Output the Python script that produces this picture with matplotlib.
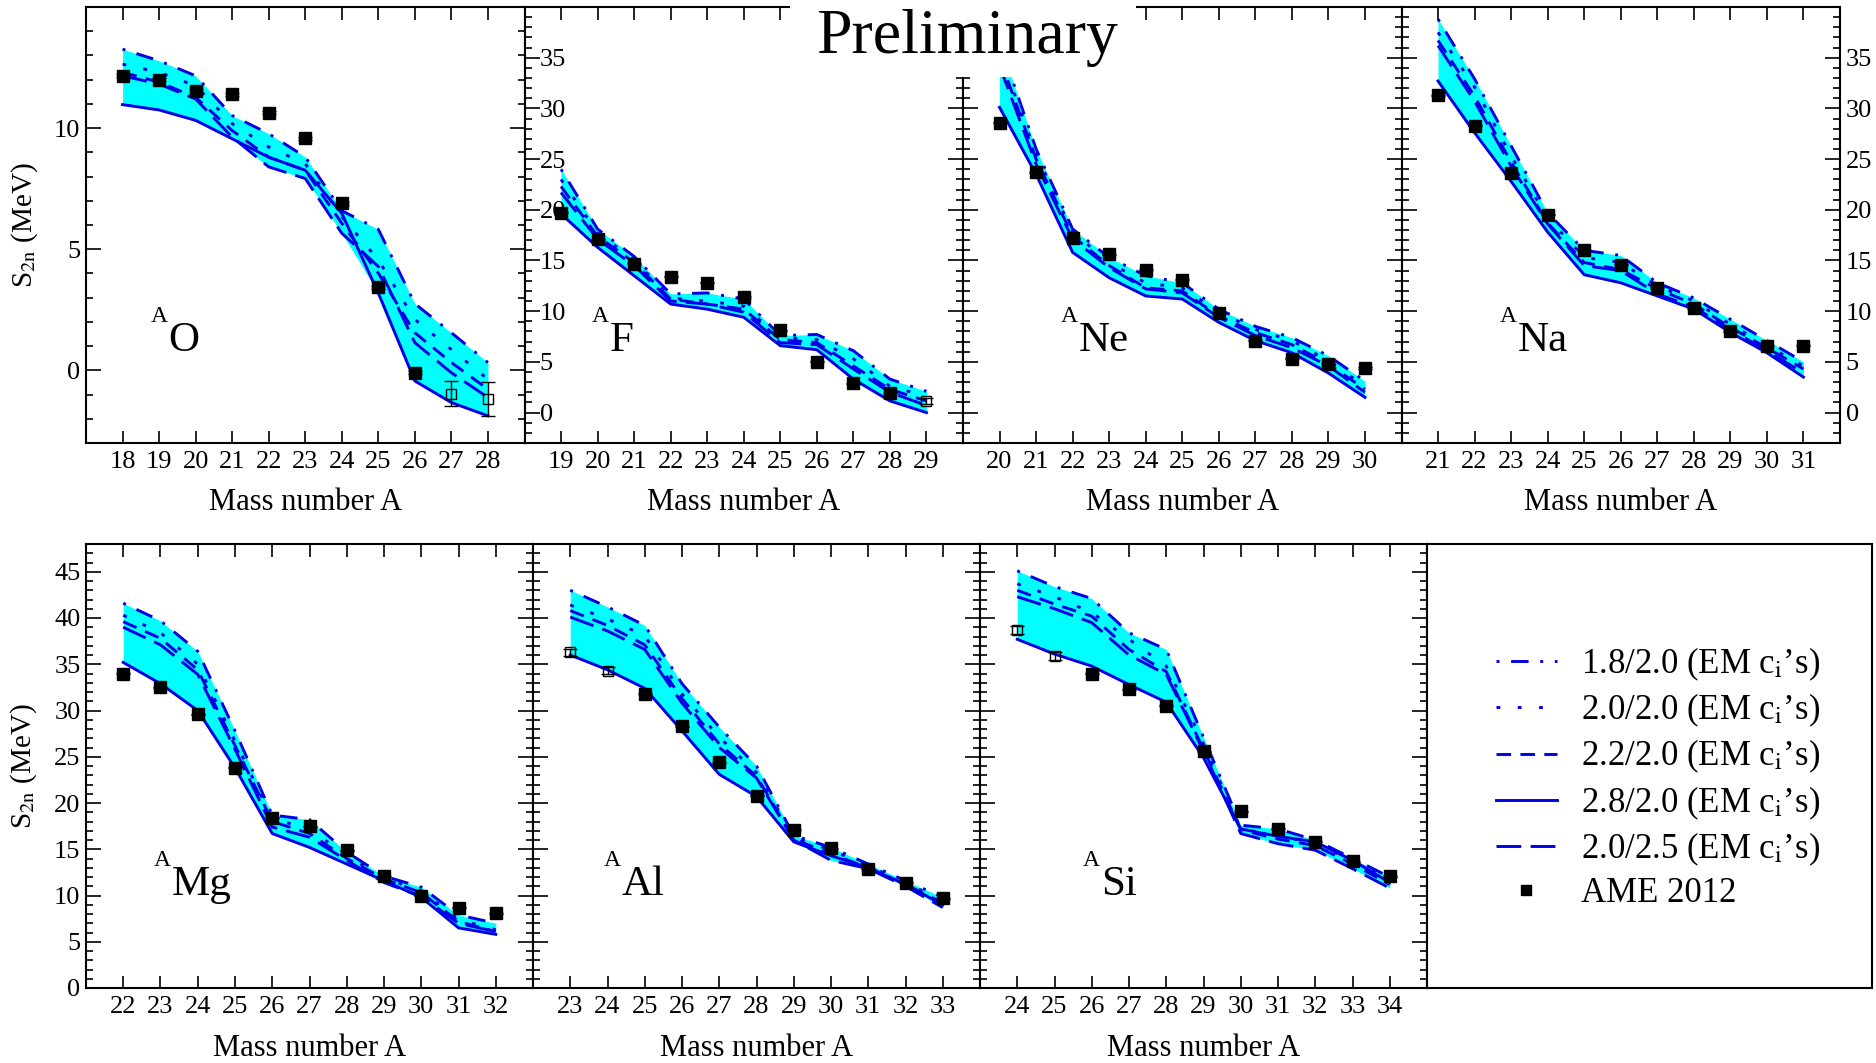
import numpy as np
import matplotlib
matplotlib.use('Agg')
import matplotlib.pyplot as plt
from matplotlib.lines import Line2D
from matplotlib.patches import Rectangle
from matplotlib.ticker import MultipleLocator

plt.rcParams['font.family'] = 'Liberation Serif'
plt.rcParams['mathtext.fontset'] = 'stix'
plt.rcParams['axes.unicode_minus'] = False

# interaction labels (order: dash-dot, dotted, dashed, solid, long dash)
labels = [r'1.8/2.0 (EM c$_{\mathrm{i}}$’s)', r'2.0/2.0 (EM c$_{\mathrm{i}}$’s)',
          r'2.2/2.0 (EM c$_{\mathrm{i}}$’s)', r'2.8/2.0 (EM c$_{\mathrm{i}}$’s)',
          r'2.0/2.5 (EM c$_{\mathrm{i}}$’s)']
elements = ['O', 'F', 'Ne', 'Na', 'Mg', 'Al', 'Si']
first_A = [18, 19, 20, 21, 22, 23, 24]

# S2n (MeV) for each chain, A = first_A .. first_A+10
s2n_18 = {  # 1.8/2.0
    'O':  [13.26, 12.78, 12.16, 10.52, 9.77, 8.81, 6.59, 5.82, 2.75, 1.55, 0.32],
    'F':  [24.0, 18.1, 15.4, 11.7, 11.8, 11.2, 7.6, 7.7, 6.1, 3.3, 2.1],
    'Ne': [36.5, 26.0, 18.1, 15.3, 13.5, 12.8, 10.2, 8.5, 7.4, 5.6, 3.1],
    'Na': [38.8, 32.9, 26.3, 19.7, 16.0, 15.5, 12.8, 11.3, 9.2, 7.1, 5.0],
    'Mg': [41.6, 39.7, 36.4, 27.8, 18.7, 18.2, 14.7, 12.1, 10.9, 7.9, 7.0],
    'Al': [43.0, 41.2, 39.2, 32.9, 28.2, 24.0, 16.5, 15.2, 13.4, 11.6, 9.8],
    'Si': [45.1, 43.4, 42.1, 38.4, 36.6, 27.1, 17.6, 17.2, 16.0, 14.0, 12.0],
}
s2n_20 = {  # 2.0/2.0
    'O':  [12.64, 12.30, 11.75, 10.18, 9.22, 8.53, 6.34, 4.56, 2.10, 0.86, -0.37],
    'F':  [23.0, 17.7, 15.1, 11.3, 11.0, 10.5, 7.4, 7.2, 5.3, 2.6, 1.6],
    'Ne': [35.5, 25.5, 17.8, 14.8, 12.8, 12.3, 9.9, 8.2, 7.1, 5.1, 2.6],
    'Na': [37.5, 32.1, 25.3, 19.2, 15.3, 14.8, 12.5, 11.0, 8.7, 6.6, 4.6],
    'Mg': [40.3, 38.4, 35.0, 26.7, 18.3, 17.2, 14.3, 11.9, 10.5, 7.4, 6.3],
    'Al': [41.4, 39.9, 38.1, 31.8, 27.1, 23.3, 16.3, 14.9, 13.2, 11.4, 9.4],
    'Si': [43.7, 42.3, 40.6, 37.7, 34.8, 26.4, 17.2, 16.5, 15.6, 13.8, 11.6],
}
s2n_22 = {  # 2.2/2.0
    'O':  [12.30, 11.90, 11.27, 9.90, 8.80, 8.26, 6.07, 4.01, 1.55, 0.32, -0.78],
    'F':  [22.3, 17.4, 14.8, 11.2, 10.7, 10.2, 7.2, 6.9, 4.6, 2.3, 1.15],
    'Ne': [35.0, 25.0, 17.4, 14.5, 12.3, 12.0, 9.5, 7.9, 6.7, 4.8, 2.3],
    'Na': [36.7, 31.2, 24.7, 18.7, 14.8, 14.1, 12.2, 10.7, 8.4, 6.4, 4.3],
    'Mg': [39.6, 37.8, 34.4, 26.2, 18.0, 16.7, 14.0, 11.8, 10.3, 7.2, 6.1],
    'Al': [40.8, 39.2, 37.1, 31.3, 26.4, 22.9, 16.1, 14.5, 13.0, 11.2, 9.2],
    'Si': [43.0, 41.5, 40.2, 36.6, 34.2, 25.8, 17.1, 16.1, 15.4, 13.4, 11.2],
}
s2n_28 = {  # 2.8/2.0
    'O':  [10.97, 10.75, 10.32, 9.56, 8.80, 8.26, 6.48, 3.19, -0.44, -1.33, -1.88],
    'F':  [19.6, 16.3, 13.5, 10.7, 10.2, 9.4, 6.6, 6.2, 3.3, 1.15, 0.0],
    'Ne': [30.1, 23.5, 15.8, 13.3, 11.5, 11.2, 8.9, 7.1, 5.9, 3.9, 1.5],
    'Na': [32.7, 27.6, 22.8, 17.8, 13.6, 12.8, 11.5, 10.2, 7.9, 5.9, 3.5],
    'Mg': [35.2, 32.9, 30.0, 23.8, 16.7, 15.2, 13.4, 11.6, 9.8, 6.5, 5.8],
    'Al': [36.0, 34.4, 32.4, 27.8, 23.1, 20.7, 15.8, 14.3, 13.0, 11.2, 9.0],
    'Si': [37.7, 36.1, 34.8, 32.8, 30.9, 24.9, 17.2, 16.4, 15.8, 13.8, 11.4],
}
s2n_2025 = {  # 2.0/2.5
    'O':  [12.16, 11.82, 11.20, 9.63, 8.40, 7.92, 5.66, 4.29, 1.14, -0.10, -1.12],
    'F':  [21.7, 17.1, 14.5, 11.0, 10.7, 9.9, 6.9, 6.7, 4.3, 2.0, 0.7],
    'Ne': [34.2, 24.5, 17.1, 14.3, 12.2, 11.8, 9.4, 7.6, 6.4, 4.6, 2.0],
    'Na': [36.2, 30.7, 24.3, 18.6, 14.5, 14.0, 11.7, 10.4, 8.2, 6.1, 3.9],
    'Mg': [39.0, 37.1, 33.9, 25.8, 17.4, 16.3, 13.8, 11.4, 9.9, 7.0, 6.1],
    'Al': [40.1, 38.6, 36.6, 30.8, 26.0, 22.7, 16.0, 13.8, 12.9, 11.0, 8.7],
    'Si': [42.3, 41.0, 39.5, 36.0, 33.9, 25.6, 16.7, 15.6, 14.9, 12.9, 10.8],
}
# AME 2012 values; extrapolated ones (open squares) listed separately
ame = {
    'O':  [12.16, 11.99, 11.55, 11.40, 10.64, 9.58, 6.90, 3.42, -0.10, -0.96, -1.19],
    'F':  [19.7, 17.1, 14.7, 13.4, 12.8, 11.4, 8.1, 5.0, 2.9, 1.9, 1.15],
    'Ne': [28.6, 23.7, 17.2, 15.6, 14.1, 13.1, 9.8, 7.1, 5.3, 4.8, 4.4],
    'Na': [31.3, 28.3, 23.6, 19.5, 16.0, 14.6, 12.3, 10.3, 8.0, 6.6, 6.6],
    'Mg': [34.0, 32.5, 29.6, 23.8, 18.4, 17.5, 14.9, 12.1, 10.0, 8.7, 8.1],
    'Al': [36.3, 34.3, 31.8, 28.3, 24.4, 20.8, 17.1, 15.1, 12.9, 11.4, 9.7],
    'Si': [38.7, 35.9, 34.0, 32.3, 30.5, 25.6, 19.1, 17.2, 15.8, 13.7, 12.1],
}
ame_extrap = {'O': [27, 28], 'F': [29], 'Al': [23, 24], 'Si': [24, 25]}
ame_extrap_err = {'O': [0.5, 0.7], 'F': [0.3], 'Al': [0.4, 0.4], 'Si': [0.4, 0.4]}
ylims = {'O': (-3, 15), 'F': (-3, 40), 'Ne': (-3, 40), 'Na': (-3, 40),
         'Mg': (0, 48), 'Al': (0, 48), 'Si': (0, 48)}

blue = '#0000e6'
cyan = '#00ffff'
styles = [(0, (1, 4, 6, 4)), (0, (1.3, 6)), (0, (5, 3.2)), '-', (0, (8.5, 3.2))]
LW = 2.1

fig = plt.figure(figsize=(18.76, 10.63), dpi=100)
W, H = 1876.0, 1063.0
tw, bw = 438.5 / W, 447.0 / W
pos = [[86 / W + i * tw, 1 - 443 / H, tw, 436 / H] for i in range(4)]
pos += [[86 / W + i * bw, 1 - 988 / H, bw, 444 / H] for i in range(3)]
# element label x position (axes fraction)
el_x = [0.187, 0.194, 0.263, 0.265, 0.192, 0.199, 0.27]

for i, el in enumerate(elements):
    ax = fig.add_axes(pos[i])
    A = np.arange(first_A[i], first_A[i] + 11)
    curves = [np.array(d[el]) for d in (s2n_18, s2n_20, s2n_22, s2n_28, s2n_2025)]
    allc = np.vstack(curves)
    ax.fill_between(A, allc.min(axis=0), allc.max(axis=0), color=cyan, lw=0, zorder=1)
    for c, st in zip(curves, styles):
        ax.plot(A, c, color=blue, lw=LW, linestyle=st, zorder=2)

    vals = np.array(ame[el])
    ext = ame_extrap.get(el, [])
    filled = np.array([a not in ext for a in A])
    ax.errorbar(A[filled], vals[filled], yerr=0.06, fmt='s', color='k', ms=8,
                capsize=5, elinewidth=1, zorder=4)
    if ext:
        ax.errorbar(A[~filled], vals[~filled], yerr=ame_extrap_err[el], fmt='s',
                    mfc='none', mec='k', color='k', ms=7, mew=1, capsize=5,
                    elinewidth=1, zorder=4)

    lo, hi = ylims[el]
    ax.set_xlim(A[0] - 1, A[0] + 11)
    ax.set_ylim(lo, hi)
    ax.set_xticks(A)
    yt = np.arange(0, hi, 5)
    ax.set_yticks(yt)
    ax.yaxis.set_minor_locator(MultipleLocator(1))
    ax.tick_params(which='both', direction='in', top=True, right=True,
                   labelsize=19, width=1.2)
    ax.tick_params(axis='x', length=9, pad=6)
    ax.tick_params(axis='y', which='major', length=11, pad=4)
    ax.tick_params(axis='y', which='minor', length=5)
    for s in ax.spines.values():
        s.set_linewidth(1.5)

    if el == 'F':
        # labels drawn inside the panel
        ax.set_yticklabels([str(v) for v in yt], ha='left')
        ax.tick_params(axis='y', which='major', pad=-11)
    elif el == 'Na':
        ax.tick_params(axis='y', labelleft=False, labelright=True)
    elif el not in ('O', 'Mg'):
        ax.tick_params(axis='y', labelleft=False)

    if el in ('O', 'Mg'):
        ax.set_ylabel(r'S$_{\mathrm{2n}}$ (MeV)', fontsize=21)
        ax.yaxis.set_label_coords(-0.105, 0.5)
    ax.set_xlabel('Mass number A', fontsize=22)
    ax.xaxis.set_label_coords(0.5, -0.103)

    ax.text(el_x[i], 0.21, el, transform=ax.transAxes, fontsize=31, va='baseline', ha='left')
    ax.annotate('A', xy=(el_x[i], 0.21), xycoords='axes fraction', xytext=(-0.5, 21),
                textcoords='offset points', fontsize=17, ha='right', va='baseline')

# legend panel
axl = fig.add_axes([86 / W + 3 * bw, 1 - 988 / H, (1872 - 1427) / W, 444 / H])
axl.set_xticks([])
axl.set_yticks([])
for s in axl.spines.values():
    s.set_linewidth(1.5)
handles = [Line2D([], [], color=blue, lw=LW, linestyle=st) for st in styles]
handles.append(Line2D([], [], color='k', marker='s', ms=7, linestyle='none'))
axl.legend(handles, labels + ['AME 2012'], loc='upper left', bbox_to_anchor=(0.155, 0.772),
           frameon=False, fontsize=25, handlelength=1.75, handletextpad=0.7,
           labelspacing=0.26, borderpad=0, borderaxespad=0)

# "Preliminary" over a white patch
fig.add_artist(Rectangle((790 / W, 1 - 77 / H), 346 / W, 80 / H, transform=fig.transFigure,
                         facecolor='white', edgecolor='none', zorder=5))
fig.text(967 / W, 1 - 53 / H, 'Preliminary', fontsize=46, ha='center', va='baseline', zorder=6)

fig.savefig('out.png', dpi=100)
